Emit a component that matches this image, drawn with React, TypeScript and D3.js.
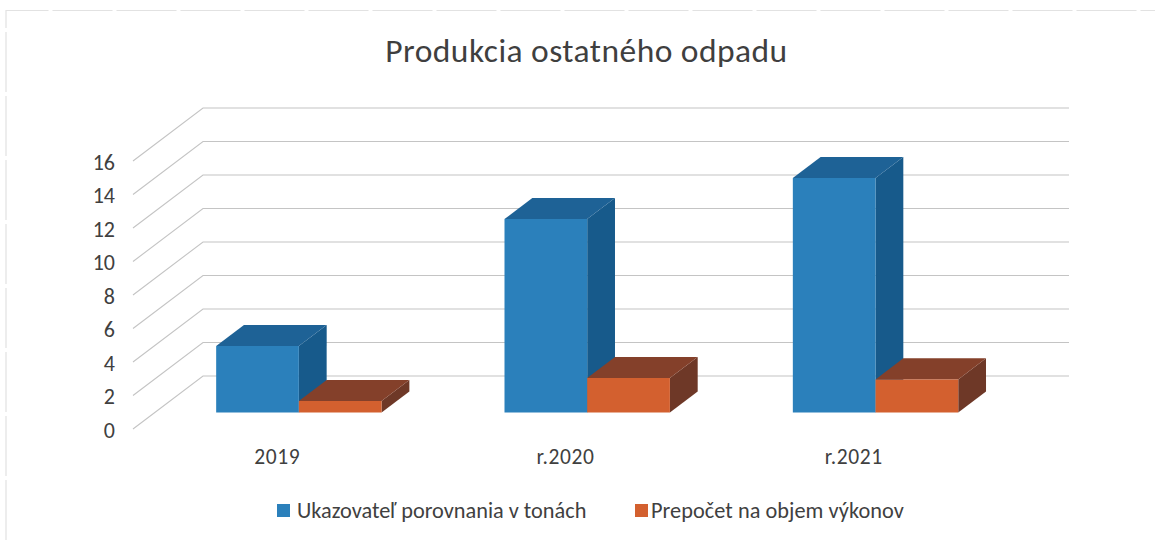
import React from "react";
import * as d3 from "d3";

const categories = ["2019", "r.2020", "r.2021"];
const seriesNames = ["Ukazovateľ porovnania v tonách", "Prepočet na objem výkonov"];
const blueValues = [3.97, 11.55, 14.0];
const orangeValues = [0.69, 2.06, 1.98];
const yTicks = [0, 2, 4, 6, 8, 10, 12, 14, 16];

const FONT = "Carlito, Lato, 'Open Sans', 'Noto Sans', sans-serif";
const TEXT = "#404040";
const GRID = "#c4c4c4";

// front-left corner of the 3D floor, and how far the depth axis runs
const originX = 133;
const originY = 429;
const depthX = 70;
const depthY = -53;
const x = d3.scaleBand<string>().domain(categories).range([0, 865]).paddingInner(0).paddingOuter(0);
const y = d3.scaleLinear().domain([0, 16]).range([0, -268]);
const depth = d3.scaleLinear().domain([0, 1]).range([0, 1]);

const project = (px: number, value: number, d: number): [number, number] => [
  originX + px + depth(d) * depthX,
  originY + y(value) + depth(d) * depthY,
];
const poly = (pts: [number, number][]) => (d3.line()(pts) as string) + "Z";

const barFront = 0.31;
const barBack = 0.707;
const barWidth = 82.7;

function Bar({ left, value, colors }: { left: number; value: number; colors: string[] }) {
  const right = left + barWidth;
  const front = poly([
    project(left, 0, barFront),
    project(right, 0, barFront),
    project(right, value, barFront),
    project(left, value, barFront),
  ]);
  const top = poly([
    project(left, value, barFront),
    project(right, value, barFront),
    project(right, value, barBack),
    project(left, value, barBack),
  ]);
  const side = poly([
    project(right, 0, barFront),
    project(right, 0, barBack),
    project(right, value, barBack),
    project(right, value, barFront),
  ]);
  return (
    <g>
      <path d={side} fill={colors[2]} />
      <path d={top} fill={colors[1]} />
      <path d={front} fill={colors[0]} />
    </g>
  );
}

const blue = ["#2b80bb", "#1e6296", "#175a8b"];
const orange = ["#d3602f", "#84402a", "#6e3827"];

export default function App() {
  return (
    <svg
      width={1155}
      height={540}
      style={{ position: "absolute", left: 0, top: 0, background: "#ffffff", fontFamily: FONT }}
    >
      <path d="M6,540V10.5H1155" fill="none" stroke="#e2e2e2" strokeWidth={1.2} strokeDasharray="60 4" />

      <text x={586.5} y={62} fontSize={33.5} letterSpacing={0.45} textAnchor="middle" fill="#3f3f3f">
        Produkcia ostatného odpadu
      </text>

      {yTicks.map((t) => {
        const a = project(0, t, 0);
        const b = project(0, t, 1);
        const c = project(x.range()[1] + 1, t, 1);
        return (
          <g key={t}>
            <path d={d3.line()([a, b, c]) as string} fill="none" stroke={GRID} strokeWidth={1.1} />
            <text x={115} y={a[1] + 8.5} fontSize={22} textAnchor="end" fill={TEXT}>
              {t}
            </text>
          </g>
        );
      })}

      {categories.map((c, i) => {
        const mid = (x(c) as number) + x.bandwidth() / 2;
        return (
          <g key={c}>
            <Bar left={mid - barWidth} value={blueValues[i]} colors={blue} />
            <Bar left={mid} value={orangeValues[i]} colors={orange} />
            <text x={originX + mid} y={464} fontSize={21.5} letterSpacing={0.6} textAnchor="middle" fill={TEXT}>
              {c}
            </text>
          </g>
        );
      })}

      <rect x={277} y={504} width={13} height={13} fill={blue[0]} />
      <text x={297} y={518} fontSize={22.3} fill={TEXT}>
        {seriesNames[0]}
      </text>
      <rect x={635} y={504} width={13} height={13} fill={orange[0]} />
      <text x={651} y={518} fontSize={22.3} letterSpacing={0.05} fill={TEXT}>
        {seriesNames[1]}
      </text>
    </svg>
  );
}
